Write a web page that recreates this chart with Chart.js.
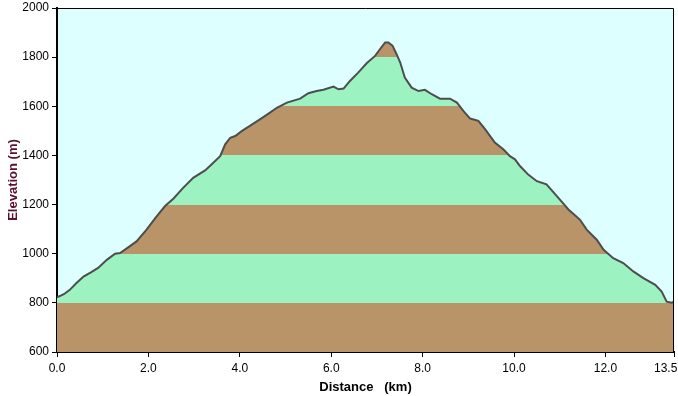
<!DOCTYPE html>
<html>
<head>
<meta charset="utf-8">
<script src="https://cdn.jsdelivr.net/npm/chart.js"></script>
<style>
  html, body { margin: 0; padding: 0; background: #ffffff; }
  canvas { display: block; }
</style>
</head>
<body>
<canvas id="profile" width="678" height="396"></canvas>
<script>
// distance along the track (km) and elevation (m)
const distKm = [
  0.00, 0.15, 0.28, 0.42, 0.58, 0.75, 0.90, 1.09, 1.27, 1.38,
  1.55, 1.74, 1.96, 2.15, 2.36, 2.55, 2.76, 2.98, 3.24, 3.42,
  3.57, 3.68, 3.79, 3.90, 4.04, 4.22, 4.44, 4.66, 4.81, 5.03,
  5.32, 5.50, 5.68, 5.83, 6.05, 6.16, 6.27, 6.41, 6.59, 6.78,
  6.96, 7.07, 7.18, 7.25, 7.34, 7.43, 7.51, 7.61, 7.76, 7.91,
  8.05, 8.20, 8.38, 8.60, 8.75, 8.89, 9.04, 9.22, 9.37, 9.58,
  9.77, 9.91, 10.02, 10.13, 10.31, 10.50, 10.71, 10.97, 11.19, 11.44,
  11.59, 11.81, 11.96, 12.17, 12.39, 12.61, 12.83, 13.09, 13.23, 13.34,
  13.45, 13.50
];
const elevM = [
  822, 835, 853, 880, 907, 925, 942, 975, 1000, 1003,
  1025, 1050, 1098, 1145, 1193, 1225, 1268, 1309, 1339, 1370,
  1397, 1445, 1472, 1479, 1499, 1520, 1547, 1574, 1594, 1615,
  1631, 1653, 1662, 1667, 1680, 1669, 1672, 1703, 1737, 1776,
  1805, 1833, 1860, 1860, 1847, 1812, 1778, 1717, 1676, 1662,
  1667, 1649, 1631, 1631, 1615, 1581, 1550, 1541, 1506, 1452,
  1424, 1397, 1384, 1357, 1322, 1295, 1282, 1227, 1180, 1139,
  1098, 1057, 1016, 982, 962, 928, 901, 873, 846, 805,
  801, 805
];

const xTicks = [0, 2, 4, 6, 8, 10, 12, 13.5];
const bandEdges = [600, 800, 1000, 1200, 1400, 1600, 1800, 2000];
const bandColors = ['#b99469', '#9cf2c0']; // brown, green alternating

const plotBg = '#ddffff';

// fill under the line, striped by elevation bands
function bandFill(ctx) {
  const chart = ctx.chart;
  const area = chart.chartArea;
  if (!area) return bandColors[0];
  const y = chart.scales.y;
  const lo = bandEdges[0], hi = bandEdges[bandEdges.length - 1];
  const g = chart.ctx.createLinearGradient(0, y.getPixelForValue(lo), 0, y.getPixelForValue(hi));
  for (let i = 0; i < bandEdges.length - 1; i++) {
    const c = bandColors[i % 2];
    g.addColorStop((bandEdges[i] - lo) / (hi - lo), c);
    g.addColorStop((bandEdges[i + 1] - lo) / (hi - lo), c);
  }
  return g;
}

const framePlugin = {
  id: 'frame',
  beforeDraw(chart) {
    const { ctx, chartArea: a } = chart;
    ctx.save();
    ctx.fillStyle = plotBg;
    ctx.fillRect(a.left, a.top, a.right - a.left, a.bottom - a.top);
    ctx.restore();
  },
  afterDraw(chart) {
    const { ctx, chartArea: a } = chart;
    ctx.save();
    ctx.strokeStyle = '#000';
    ctx.lineWidth = 1;
    ctx.beginPath();
    ctx.moveTo(a.left, a.top + 0.5);
    ctx.lineTo(a.right - 0.5, a.top + 0.5);
    ctx.lineTo(a.right - 0.5, a.bottom);
    ctx.stroke();
    ctx.restore();
  }
};

const tickFont = { family: 'Liberation Sans, Arial, sans-serif', size: 12 };
const titleFont = { family: 'Liberation Sans, Arial, sans-serif', size: 13, weight: 'bold' };

new Chart(document.getElementById('profile'), {
  type: 'line',
  data: {
    datasets: [{
      data: distKm.map((d, i) => ({ x: d, y: elevM[i] })),
      borderColor: '#4d4d4d',
      borderWidth: 2,
      pointRadius: 0,
      tension: 0,
      fill: 'start',
      backgroundColor: bandFill
    }]
  },
  options: {
    responsive: false,
    animation: false,
    devicePixelRatio: 1,
    layout: { padding: { top: 8, right: 4, left: 0, bottom: 0 } },
    plugins: {
      legend: { display: false },
      tooltip: { enabled: false }
    },
    scales: {
      x: {
        type: 'linear',
        min: 0,
        max: 13.5,
        grid: { drawOnChartArea: false, tickLength: 5, tickColor: '#000', tickWidth: 1 },
        border: { display: true, color: '#000', width: 2 },
        afterBuildTicks: s => { s.ticks = xTicks.map(v => ({ value: v })); },
        afterFit: s => { s.height = 44; s.paddingLeft = 0; s.paddingRight = 0; },
        ticks: {
          color: '#000',
          font: tickFont,
          padding: 4,
          maxRotation: 0,
          autoSkip: false,
          // last label sits against the right edge, so pad it to pull it left
          callback: (v, i, all) => Number(v).toFixed(1) + (i === all.length - 1 ? '     ' : '')
        },
        title: {
          display: true,
          text: 'Distance   (km)',
          color: '#000',
          font: titleFont,
          padding: { top: 0, bottom: 1 }
        }
      },
      y: {
        min: 600,
        max: 2000,
        grid: { drawOnChartArea: false, tickLength: 5, tickColor: '#000', tickWidth: 1 },
        border: { display: true, color: '#000', width: 2 },
        afterFit: s => { s.width = 57; s.paddingTop = 0; s.paddingBottom = 0; },
        ticks: {
          stepSize: 200,
          color: '#000',
          font: tickFont,
          padding: 3,
          callback: v => String(v)
        },
        title: {
          display: true,
          text: 'Elevation (m)',
          color: '#5a1030',
          font: titleFont,
          padding: { top: 6, bottom: 0 }
        }
      }
    }
  },
  plugins: [framePlugin]
});
</script>
</body>
</html>
